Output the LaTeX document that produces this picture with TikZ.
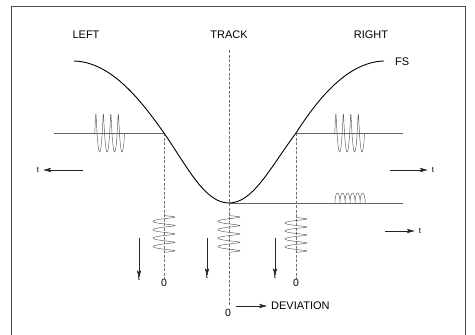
\documentclass[tikz,border=0pt]{standalone}
\usepackage{fontspec}
\setmainfont{Liberation Sans}
\usetikzlibrary{arrows.meta}
\begin{document}
\begin{tikzpicture}[x=1pt,y=-1pt,
  lbl/.style={font=\fontsize{11}{12}\selectfont, inner sep=0pt},
  tlbl/.style={font=\fontsize{8}{9}\selectfont, inner sep=0pt},
  zlbl/.style={font=\fontsize{10.5}{11}\selectfont, inner sep=0pt},
  thin line/.style={draw=black!60, line width=0.5pt},
  dline/.style={draw=black!55, line width=0.5pt, dash pattern=on 3pt off 1.5pt},
  wave/.style={draw=black!65, line width=0.45pt},
  arr/.style={draw=black!85, line width=0.6pt, -{Stealth[length=8pt,width=4.4pt,inset=2pt]}},
  curve/.style={draw=black, line width=0.9pt}]
\useasboundingbox (0,0) rectangle (475,335);
% frame
\draw[black!70, line width=0.6pt] (11,340) -- (11,6) -- (465,6) -- (465,340);
% labels
\node[lbl] (left) at (86,35) {LEFT};
\node[lbl] (track) at (229,35) {TRACK};
\node[lbl] (right) at (371,35) {RIGHT};
\node[lbl, anchor=west] (fs) at (395,62) {FS};
% key points
\coordinate (cl) at (164,133);
\coordinate (cr) at (296,133);
\coordinate (cm) at (229,203);
% track line
\coordinate (trtop) at (229,50);
\coordinate (trbot) at (229,305);
\draw[dline] (trtop) -- (trbot);
% horizontal lines
\coordinate (hl) at (54,133);
\coordinate (hr) at (403,133);
\coordinate (hlow) at (403,203);
\draw[thin line] (hl) -- (cl);
\draw[thin line] (cr) -- (hr);
\draw[thin line] (cm) -- (hlow);
% vertical lines
\node[zlbl] (z1) at (164,283) {0};
\node[zlbl] (z2) at (296,283) {0};
\node[zlbl] (z0) at (228,313) {0};
\draw[dline] (cl) -- (z1.north);
\draw[dline] (cr) -- (z2.north);
% curve
\draw[curve] (74,61) .. controls (112,62) and (142,102) .. (cl)
  .. controls (188,168) and (205,203) .. (cm)
  .. controls (253,203) and (270,168) .. (cr)
  .. controls (316,102) and (346,62) .. (384,61);
% horizontal coil waves
\draw[wave] plot[domain=0:8*pi, samples=240, variable=\t]
  ({94+1.19*\t+0.7*cos(\t r)}, {133-19*sin(\t r)});
\draw[wave] plot[domain=0:8*pi, samples=240, variable=\t]
  ({334+1.19*\t+0.7*cos(\t r)}, {133-19*sin(\t r)});
% small coil on lower line
\draw[wave] plot[domain=0:12*pi, samples=300, variable=\t]
  ({335+0.8*\t-0.9*sin(\t r)}, {203-5*(1-cos(\t r))});
% vertical springs
\draw[wave] plot[domain=0:9*pi, samples=260, variable=\t]
  ({164+11*sin(\t r)}, {215+1.34*\t+0.5*cos(\t r)});
\draw[wave] plot[domain=0:9*pi, samples=260, variable=\t]
  ({229+11*sin(\t r)}, {215+1.34*\t+0.5*cos(\t r)});
\draw[wave] plot[domain=0:9*pi, samples=260, variable=\t]
  ({296+11*sin(\t r)}, {217+1.27*\t+0.5*cos(\t r)});
% time arrows
\node[tlbl] (tl) at (38,170) {t};
\coordinate (al) at (83,170);
\draw[arr] (al) -- ([xshift=4pt]tl.east);
\node[tlbl] (tr1) at (433,170) {t};
\coordinate (ar1) at (390,170);
\draw[arr] (ar1) -- ([xshift=-4pt]tr1.west);
\node[tlbl] (tr2) at (420,231) {t};
\coordinate (ar2) at (385,231);
\draw[arr] (ar2) -- ([xshift=-4pt]tr2.west);
\node[tlbl] (td1) at (139,278) {t};
\coordinate (ad1) at (139,238);
\draw[arr] (ad1) -- ([yshift=-3pt]td1.north);
\node[tlbl] (td2) at (207,276) {t};
\coordinate (ad2) at (207,238);
\draw[arr] (ad2) -- ([yshift=-3pt]td2.north);
\node[tlbl] (td3) at (275,276) {t};
\coordinate (ad3) at (275,238);
\draw[arr] (ad3) -- ([yshift=-3pt]td3.north);
% deviation
\node[lbl, anchor=west] (dev) at (271,306) {DEVIATION};
\coordinate (adev) at (236,306);
\draw[arr] (adev) -- ([xshift=-4pt]dev.west);
\end{tikzpicture}
\end{document}
